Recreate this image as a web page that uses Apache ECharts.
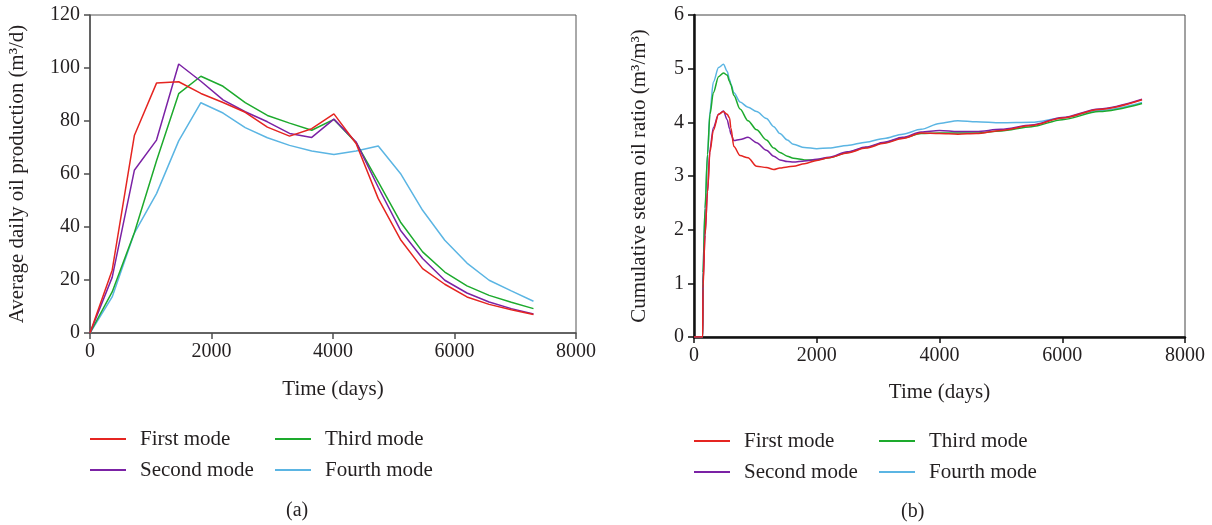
<!DOCTYPE html>
<html>
<head>
<meta charset="utf-8">
<script src="https://cdn.jsdelivr.net/npm/echarts@6/dist/echarts.min.js"></script>
<style>
  html, body { margin: 0; padding: 0; background: #fff; }
  #chart { width: 1212px; height: 525px; }
</style>
</head>
<body>
<div id="chart"></div>
<script>
// (a) average daily oil production, yearly samples
const prodDays = [0, 365, 730, 1095, 1460, 1825, 2190, 2555, 2920, 3285, 3650, 4015, 4380, 4745, 5110, 5475, 5840, 6205, 6570, 6935, 7300]
const prodFirst = [0, 23.7, 74.5, 94.3, 94.8, 90.4, 87, 83.3, 77.7, 74.3, 77.1, 82.7, 71.5, 50.7, 35.3, 24.3, 18.4, 13.6, 10.8, 8.8, 7.0]
const prodSecond = [0, 21, 61.4, 72.8, 101.5, 95, 88, 83.5, 79.7, 75.3, 73.8, 80.7, 72.1, 55, 38.8, 28.1, 19.9, 15.1, 11.7, 9.2, 7.2]
const prodThird = [0, 15.5, 37.8, 65, 90.3, 96.9, 93.1, 86.9, 82.1, 79.2, 76.5, 80.6, 71.8, 57, 41.9, 30.6, 23, 17.8, 14.2, 11.6, 9.2]
const prodFourth = [0, 13.6, 37.7, 52.6, 72.5, 86.9, 83, 77.5, 73.7, 70.8, 68.7, 67.4, 68.7, 70.6, 60.2, 46.3, 35, 26.4, 19.9, 15.9, 12]

// (b) cumulative steam oil ratio
const ratioDays = [0, 142, 146, 180, 220, 260, 315, 400, 480, 540, 580, 600, 650, 750, 880, 1020, 1180, 1300, 1400, 1520, 1620, 1800, 2000, 2200, 2500, 2800, 3100, 3400, 3700, 4000, 4300, 4600, 5000, 5500, 6000, 6600, 7300]
const ratioFirst = [0, 0, 0.9, 1.9, 2.7, 3.45, 3.85, 4.15, 4.2, 4.15, 4.08, 3.9, 3.55, 3.38, 3.34, 3.18, 3.16, 3.12, 3.15, 3.17, 3.18, 3.23, 3.29, 3.34, 3.43, 3.52, 3.61, 3.7, 3.8, 3.79, 3.78, 3.79, 3.85, 3.94, 4.08, 4.24, 4.42]
const ratioSecond = [0, 0, 1.0, 1.9, 2.7, 3.5, 3.9, 4.15, 4.21, 4.05, 3.88, 3.78, 3.66, 3.68, 3.72, 3.62, 3.48, 3.37, 3.3, 3.27, 3.26, 3.28, 3.31, 3.35, 3.45, 3.54, 3.63, 3.72, 3.82, 3.85, 3.83, 3.83, 3.87, 3.95, 4.09, 4.25, 4.43]
const ratioThird = [0, 0, 1.2, 2.4, 3.4, 4.15, 4.55, 4.85, 4.92, 4.88, 4.76, 4.7, 4.5, 4.25, 4.03, 3.86, 3.67, 3.52, 3.44, 3.37, 3.33, 3.3, 3.3, 3.34, 3.44, 3.53, 3.62, 3.71, 3.79, 3.8, 3.8, 3.8, 3.84, 3.92, 4.05, 4.2, 4.35]
const ratioFourth = [0, 0, 1.2, 2.4, 3.4, 4.2, 4.75, 5.02, 5.08, 4.95, 4.8, 4.72, 4.55, 4.38, 4.28, 4.2, 4.07, 3.92, 3.79, 3.67, 3.59, 3.53, 3.51, 3.52, 3.57, 3.63, 3.7, 3.78, 3.87, 3.98, 4.03, 4.01, 3.99, 4.0, 4.08, 4.22, 4.37]

const modeNames = ['First mode', 'Second mode', 'Third mode', 'Fourth mode']
const modeColors = ['#e52521', '#7b22a5', '#1daa2d', '#5bb5e3']

const font = 'Liberation Serif'
const txt = '#231f20'

function pairs(xs, ys) {
  return xs.map((x, i) => [x, ys[i]])
}

let chart = echarts.init(document.getElementById('chart'))

const prodSets = [prodFirst, prodSecond, prodThird, prodFourth]
const ratioSets = [ratioFirst, ratioSecond, ratioThird, ratioFourth]

let series = []
prodSets.forEach((ys, i) => {
  series.push({
    name: modeNames[i],
    type: 'line',
    xAxisIndex: 0,
    yAxisIndex: 0,
    data: pairs(prodDays, ys),
    showSymbol: false,
    lineStyle: { color: modeColors[i], width: 1.5 },
    itemStyle: { color: modeColors[i] },
    z: 10 - i
  })
})
ratioSets.forEach((ys, i) => {
  series.push({
    name: modeNames[i],
    type: 'line',
    xAxisIndex: 1,
    yAxisIndex: 1,
    data: pairs(ratioDays, ys),
    showSymbol: false,
    smooth: 0.3,
    smoothMonotone: 'x',
    lineStyle: { color: modeColors[i], width: 1.5 },
    itemStyle: { color: modeColors[i] },
    z: 10 - i
  })
})

const labelStyle = { fontFamily: font, fontSize: 20, color: txt, formatter: v => String(v) }

function xAxisOf(idx, axisColor, axisWidth, gap) {
  return {
    gridIndex: idx,
    type: 'value',
    min: 0, max: 8000, interval: 2000,
    name: 'Time (days)',
    nameLocation: 'middle',
    nameGap: gap,
    nameTextStyle: { fontFamily: font, fontSize: 21, color: txt },
    axisLine: { lineStyle: { color: axisColor, width: axisWidth } },
    axisTick: { length: 6, lineStyle: { color: axisColor, width: 1.5 } },
    axisLabel: Object.assign({ margin: 9 }, labelStyle),
    splitLine: { show: false }
  }
}

function legendOf(left, top, names) {
  return {
    orient: 'vertical',
    left: left,
    top: top,
    data: names,
    icon: 'rect',
    itemWidth: 36,
    itemHeight: 2,
    itemGap: 9,
    padding: 0,
    selectedMode: false,
    textStyle: { fontFamily: font, fontSize: 21, color: txt, padding: [0, 0, 0, 9], lineHeight: 22 }
  }
}

let option = {
  animation: false,
  grid: [
    { left: 90, top: 15, width: 486, height: 318, show: true, borderColor: '#555', borderWidth: 1 },
    { left: 694, top: 15, width: 491, height: 322, show: true, borderColor: '#444', borderWidth: 1 }
  ],
  xAxis: [
    xAxisOf(0, '#4d4d4d', 1.5, 46),
    xAxisOf(1, '#111', 2.5, 45)
  ],
  yAxis: [
    {
      gridIndex: 0,
      type: 'value',
      min: 0, max: 120, interval: 20,
      name: 'Average daily oil production (m\u00b3/d)',
      nameLocation: 'middle',
      nameGap: 62,
      nameTextStyle: { fontFamily: font, fontSize: 21, color: txt },
      axisLine: { show: true, lineStyle: { color: '#4d4d4d', width: 1.5 } },
      axisTick: { show: true, length: 6, lineStyle: { color: '#4d4d4d', width: 1.5 } },
      axisLabel: Object.assign({ margin: 10 }, labelStyle),
      splitLine: { show: false }
    },
    {
      gridIndex: 1,
      type: 'value',
      min: 0, max: 6, interval: 1,
      name: 'Cumulative steam oil ratio (m\u00b3/m\u00b3)',
      nameLocation: 'middle',
      nameGap: 44,
      nameTextStyle: { fontFamily: font, fontSize: 21, color: txt },
      axisLine: { show: true, lineStyle: { color: '#111', width: 2.5 } },
      axisTick: { show: true, length: 6, lineStyle: { color: '#111', width: 1.5 } },
      axisLabel: Object.assign({ margin: 10 }, labelStyle),
      splitLine: { show: false }
    }
  ],
  legend: [
    legendOf(90, 428, ['First mode', 'Second mode']),
    legendOf(275, 428, ['Third mode', 'Fourth mode']),
    legendOf(694, 430, ['First mode', 'Second mode']),
    legendOf(879, 430, ['Third mode', 'Fourth mode'])
  ],
  graphic: [
    { type: 'text', left: 286, top: 501, style: { text: '(a)', font: '20px "Liberation Serif"', fill: txt } },
    { type: 'text', left: 901, top: 502, style: { text: '(b)', font: '20px "Liberation Serif"', fill: txt } }
  ],
  series: series
}

chart.setOption(option)
</script>
</body>
</html>
